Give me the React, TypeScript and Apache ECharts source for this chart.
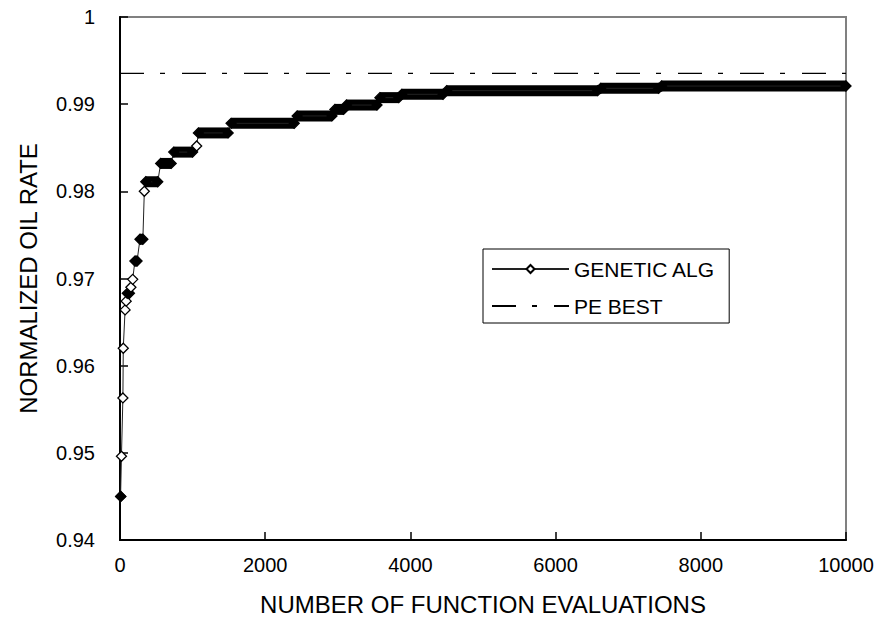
import React, { useEffect, useRef } from "react";
import * as echarts from "echarts";

// GA best-so-far history: each entry is a level held from stepStart to stepEnd (evaluations)
const stepStart = [8, 20, 40, 45, 70, 85, 100, 150, 175, 205, 275, 335, 355, 560, 740, 1056, 1080, 1530, 2440, 2960, 3120, 3580, 3880, 4500, 6620, 7460];
const stepEnd = [12, 20, 40, 45, 70, 85, 130, 150, 175, 235, 315, 335, 520, 705, 1000, 1056, 1490, 2400, 2920, 3080, 3540, 3840, 4450, 6580, 7420, 10000];
const stepValue = [0.945, 0.9496, 0.9563, 0.962, 0.9664, 0.9674, 0.9683, 0.969, 0.9699, 0.972, 0.9745, 0.98, 0.9811, 0.9832, 0.9845, 0.9852, 0.9867, 0.9878, 0.98865, 0.9894, 0.9899, 0.99075, 0.99113, 0.99155, 0.99182, 0.99208];

const peBestValue = 0.99354;
const xRange = [0, 10000];
const yRange = [0.94, 1];

const seriesNames = ["GENETIC ALG", "PE BEST"];

const FONT = "'Liberation Sans', Arial, sans-serif";

export default function App() {
  const ref = useRef<HTMLDivElement>(null);
  useEffect(() => {
    if (!ref.current) return;
    const chart = echarts.init(ref.current, null, { renderer: "svg" });

    const gaData: any[] = [];
    const bands: any[] = [];
    stepStart.forEach((x0, i) => {
      const x1 = stepEnd[i];
      const y = stepValue[i];
      if (x1 > x0) {
        gaData.push({ value: [x0, y], itemStyle: { color: "#000" } });
        gaData.push({ value: [x1, y], itemStyle: { color: "#000" } });
        bands.push({
          type: "line",
          name: "band" + i,
          data: [[x0, y], [x1, y]],
          showSymbol: false,
          symbol: "none",
          silent: true,
          clip: false,
          z: 2,
          lineStyle: { color: "#000", width: 11, cap: "butt" },
        });
      } else {
        gaData.push({ value: [x0, y] });
      }
    });

    chart.setOption({
      animation: false,
      backgroundColor: "#fff",
      grid: {
        left: 120,
        right: 39,
        top: 17,
        bottom: 92,
        show: true,
        borderColor: "#808080",
        borderWidth: 2,
      },
      legend: {
        data: seriesNames,
        orient: "vertical",
        left: 483,
        top: 249,
        backgroundColor: "#fff",
        borderColor: "#000",
        borderWidth: 1,
        borderRadius: 0,
        padding: [8, 14, 5, 8],
        itemWidth: 77,
        itemHeight: 10,
        itemGap: 13,
        textStyle: { fontSize: 21, color: "#000", fontFamily: FONT, lineHeight: 24 },
      },
      xAxis: {
        type: "value",
        min: xRange[0],
        max: xRange[1],
        interval: 2000,
        name: "NUMBER OF FUNCTION EVALUATIONS",
        nameLocation: "middle",
        nameGap: 52,
        nameTextStyle: { fontSize: 24, color: "#000", fontFamily: FONT },
        axisLine: { show: true, onZero: false, lineStyle: { color: "#000", width: 2 } },
        axisTick: { show: true, inside: true, length: 8, lineStyle: { color: "#000", width: 1.5 } },
        axisLabel: { fontSize: 20, color: "#000", fontFamily: FONT, margin: 15, formatter: (v: number) => String(v) },
        splitLine: { show: false },
      },
      yAxis: {
        type: "value",
        min: yRange[0],
        max: yRange[1],
        interval: 0.01,
        name: "NORMALIZED OIL RATE",
        nameLocation: "middle",
        nameGap: 80,
        nameTextStyle: { fontSize: 24, color: "#000", fontFamily: FONT },
        axisLine: { show: true, onZero: false, lineStyle: { color: "#000", width: 2 } },
        axisTick: { show: true, inside: true, length: 8, lineStyle: { color: "#000", width: 1.5 } },
        axisLabel: {
          fontSize: 20,
          color: "#000",
          fontFamily: FONT,
          margin: 25,
          formatter: (v: number) => String(+v.toFixed(2)),
        },
        splitLine: { show: false },
      },
      series: [
        {
          type: "line",
          name: seriesNames[0],
          data: gaData,
          symbol: "diamond",
          symbolSize: 10,
          showAllSymbol: true,
          clip: false,
          z: 3,
          lineStyle: { color: "#222", width: 1 },
          itemStyle: { color: "#fff", borderColor: "#000", borderWidth: 1.3 },
        },
        {
          type: "line",
          name: seriesNames[1],
          data: [[xRange[0], peBestValue], [xRange[1], peBestValue]],
          symbol: "circle",
          symbolSize: 0,
          showSymbol: false,
          z: 1,
          lineStyle: { color: "#000", width: 1.3, type: [24, 16, 5, 17] },
          itemStyle: { color: "#000", opacity: 0 },
        },
        ...bands,
      ],
    });
    return () => chart.dispose();
  }, []);
  return (
    <div
      ref={ref}
      style={{ position: "absolute", left: 0, top: 0, width: 885, height: 632 }}
    />
  );
}
